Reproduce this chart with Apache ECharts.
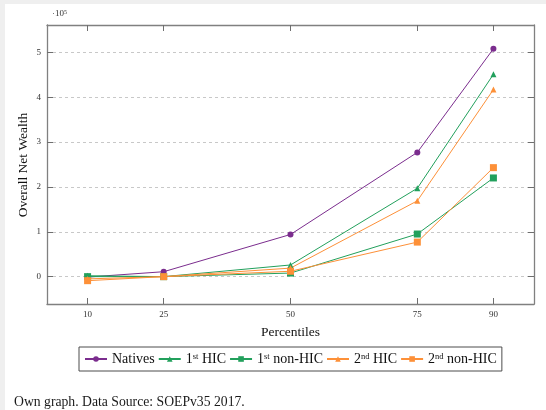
<!DOCTYPE html>
<html>
<head>
<meta charset="utf-8">
<script src="https://cdn.jsdelivr.net/npm/echarts@6/dist/echarts.min.js"></script>
<style>
  html, body { margin: 0; padding: 0; background: #fff; }
  #main { width: 546px; height: 410px; }
</style>
</head>
<body>
<div id="main"></div>
<script>
// percentiles on x, wealth in units of 10^5
var percentiles = [10, 25, 50, 75, 90];
var yTicks = [0, 1, 2, 3, 4, 5];

var natives     = [-0.01, 0.11, 0.94, 2.77, 5.08];
var hic1        = [0.02, 0.00, 0.26, 1.97, 4.51];
var nonHic1     = [0.00, 0.00, 0.08, 0.95, 2.20];
var hic2        = [-0.05, 0.00, 0.19, 1.69, 4.17];
var nonHic2     = [-0.09, 0.00, 0.12, 0.77, 2.43];

var serif = '"Liberation Serif", "DejaVu Serif", serif';
var purple = '#7b2d8e';
var green = '#22a05c';
var orange = '#fd9038';
var axisGray = '#808080';

function pairs(vals) {
    var out = [];
    for (var i = 0; i < percentiles.length; i++) {
        out.push([percentiles[i], vals[i]]);
    }
    return out;
}

function mkSeries(name, vals, color, symbol, size) {
    return {
        name: name,
        type: 'line',
        data: pairs(vals),
        xAxisIndex: 0,
        yAxisIndex: 0,
        symbol: symbol,
        symbolSize: size,
        lineStyle: { color: color, width: 1 },
        itemStyle: { color: color },
        animation: false
    };
}

// axis frame parts shared by all four sides
function frameLine() {
    return { show: true, onZero: false, lineStyle: { color: axisGray, width: 1.3 } };
}
function frameTicks(vals) {
    return { show: true, inside: true, length: 6, customValues: vals, lineStyle: { color: '#6e6e6e', width: 1 } };
}

var myChart = echarts.init(document.getElementById('main'));

var option = {
    backgroundColor: '#fff',
    animation: false,
    textStyle: { fontFamily: serif },
    graphic: [
        // grey page strips of the screenshot
        { type: 'rect', shape: { x: 0, y: 0, width: 546, height: 4 }, style: { fill: '#efefef' } },
        { type: 'rect', shape: { x: 0, y: 0, width: 5, height: 410 }, style: { fill: '#efefef' } },
        {
            type: 'text', left: 52, top: 9,
            style: {
                text: '·10{s|5}',
                font: '9px ' + serif,
                fill: '#333',
                rich: { s: { fontSize: 6, verticalAlign: 'top', fontFamily: serif, fill: '#333' } }
            }
        },
        // y axis title, placed by hand next to the tick labels
        {
            type: 'text', x: 23, y: 165, rotation: Math.PI / 2,
            style: {
                text: 'Overall Net Wealth', font: '13.5px ' + serif, fill: '#111',
                align: 'center', verticalAlign: 'middle'
            }
        },
        {
            type: 'text', left: 14, top: 395,
            style: { text: 'Own graph. Data Source: SOEPv35 2017.', font: '13.7px ' + serif, fill: '#1a1a1a' }
        }
    ],
    grid: { left: 47, top: 25, right: 12, bottom: 106 },
    legend: {
        left: 79,
        top: 347,
        padding: [5, 5],
        itemGap: 3,
        itemWidth: 22,
        itemHeight: 7,
        borderColor: '#4d4d4d',
        borderWidth: 1,
        borderRadius: 0,
        textStyle: {
            fontFamily: serif,
            fontSize: 14,
            color: '#111',
            rich: { s: { fontSize: 8.5, verticalAlign: 'top', fontFamily: serif, color: '#111' } }
        },
        formatter: function (name) {
            return name.replace(/^(\d)(st|nd)/, '$1{s|$2}');
        },
        data: ['Natives', '1st HIC', '1st non-HIC', '2nd HIC', '2nd non-HIC']
    },
    xAxis: [
        {
            type: 'value', min: 2, max: 98, position: 'bottom',
            name: 'Percentiles', nameLocation: 'middle', nameGap: 21,
            nameTextStyle: { fontFamily: serif, fontSize: 13.5, color: '#111' },
            axisLine: frameLine(),
            axisTick: frameTicks(percentiles),
            axisLabel: { customValues: percentiles, fontFamily: serif, fontSize: 9, color: '#333', margin: 6 },
            splitLine: { show: false }
        },
        {
            type: 'value', min: 2, max: 98, position: 'top',
            axisLine: frameLine(),
            axisTick: frameTicks(percentiles),
            axisLabel: { show: false },
            splitLine: { show: false }
        }
    ],
    yAxis: [
        {
            type: 'value', min: -0.61, max: 5.61, position: 'left',
            axisLine: frameLine(),
            axisTick: frameTicks(yTicks),
            axisLabel: { customValues: yTicks, fontFamily: serif, fontSize: 9, color: '#333', margin: 6 },
            splitLine: { show: true, lineStyle: { color: '#c8c8c8', type: [3, 3], width: 1 } }
        },
        {
            type: 'value', min: -0.61, max: 5.61, position: 'right',
            axisLine: frameLine(),
            axisTick: frameTicks(yTicks),
            axisLabel: { show: false },
            splitLine: { show: false }
        }
    ],
    series: [
        mkSeries('Natives', natives, purple, 'circle', 6),
        mkSeries('1st HIC', hic1, green, 'triangle', 6),
        mkSeries('1st non-HIC', nonHic1, green, 'rect', 7),
        mkSeries('2nd HIC', hic2, orange, 'triangle', 6),
        mkSeries('2nd non-HIC', nonHic2, orange, 'rect', 7)
    ]
};

myChart.setOption(option);
</script>
</body>
</html>
